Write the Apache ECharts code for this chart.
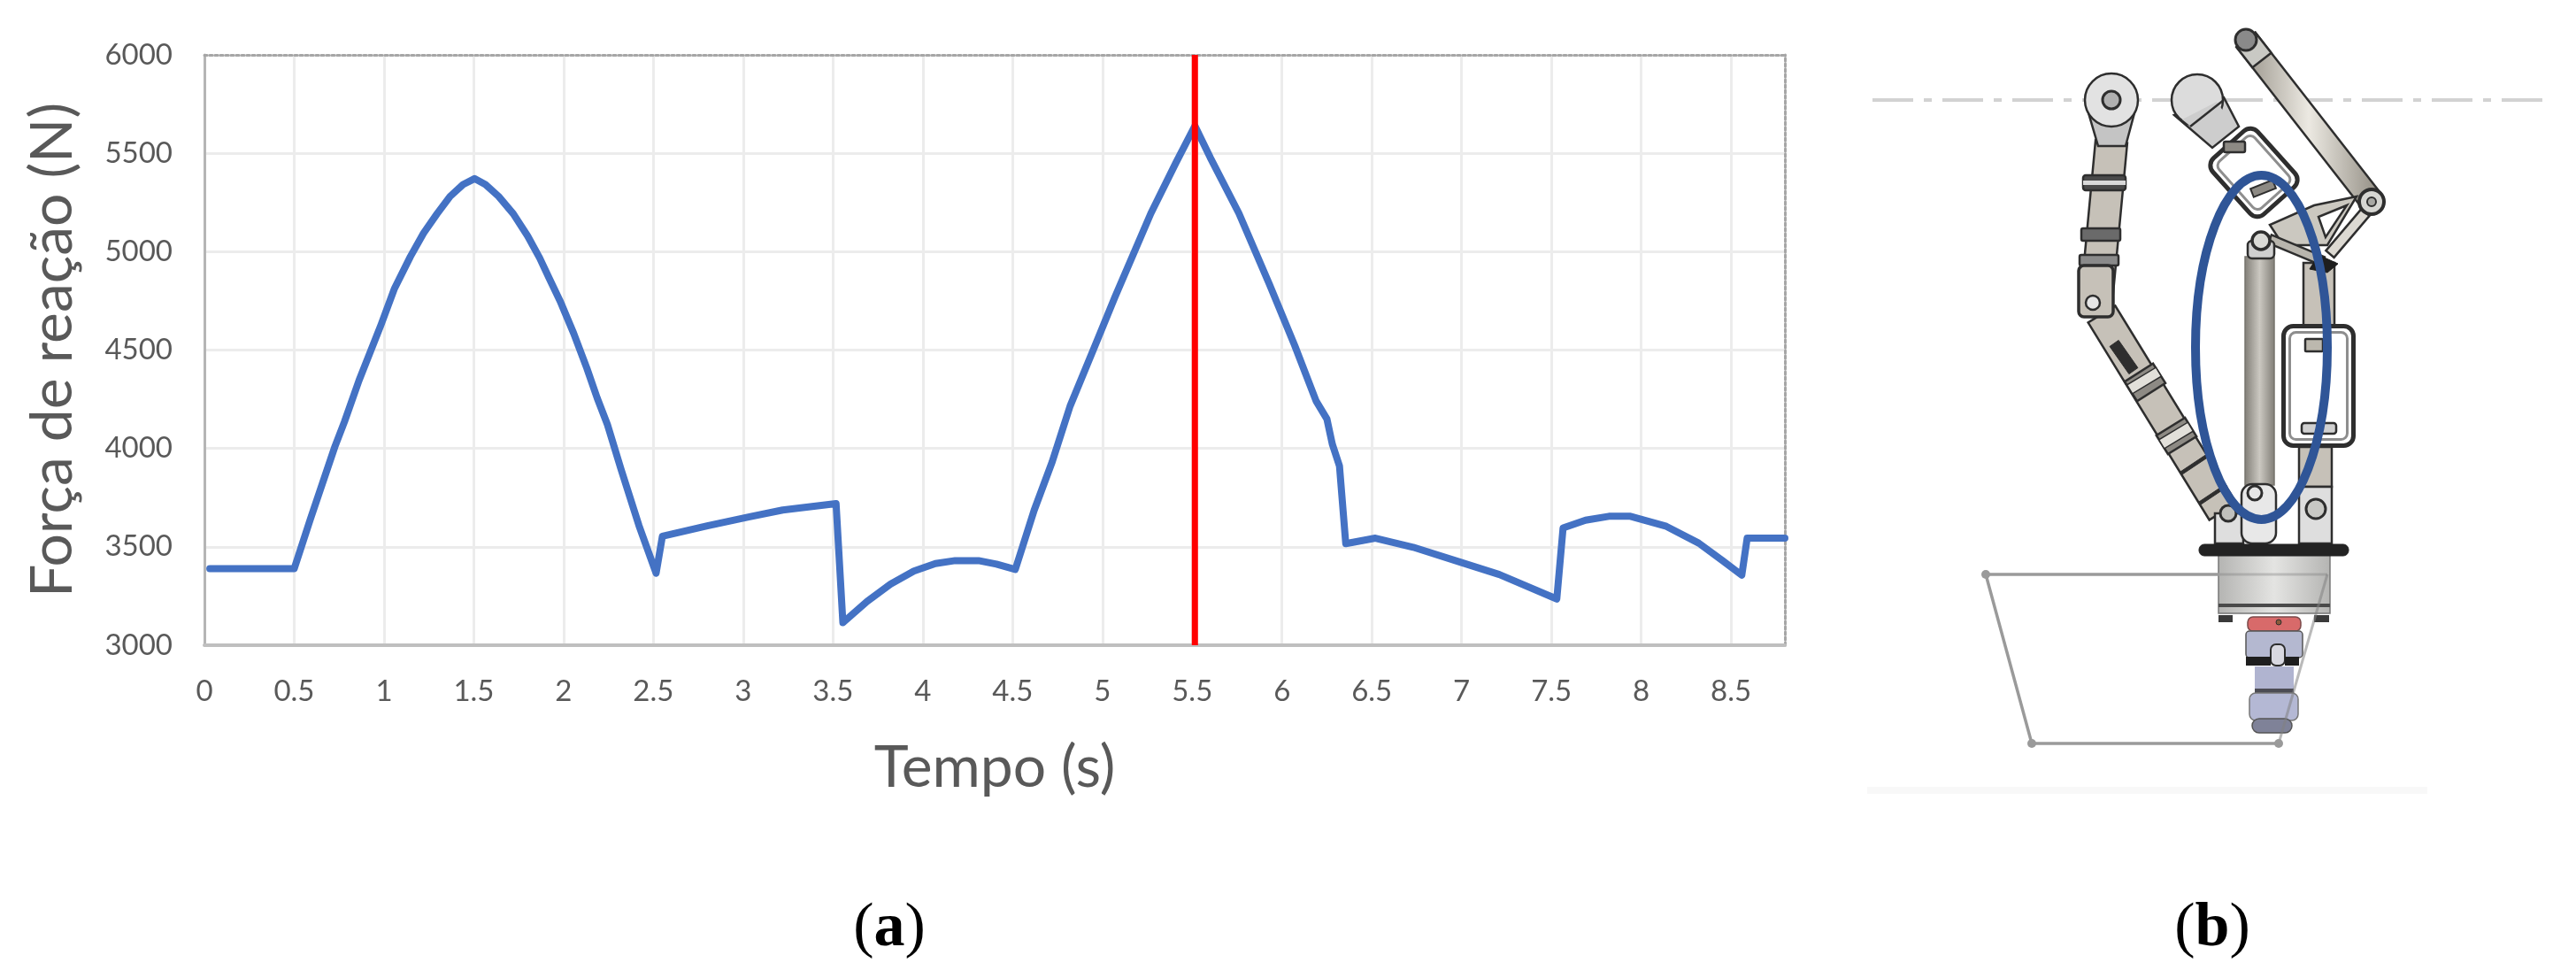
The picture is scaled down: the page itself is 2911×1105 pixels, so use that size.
<!DOCTYPE html>
<html>
<head>
<meta charset="utf-8">
<style>
  html, body { margin: 0; padding: 0; background: #fff; }
  #chart { width: 2911px; height: 1105px; }
</style>
<script src="https://cdn.jsdelivr.net/npm/echarts@6/dist/echarts.min.js"></script>
</head>
<body>
<div id="chart"></div>
<script>
// curve
var tempo = [0.03, 0.5, 0.59, 0.726, 0.78, 0.861, 0.984, 1.057, 1.147, 1.22, 1.295, 1.368, 1.44, 1.504, 1.565, 1.638, 1.72, 1.8, 1.867, 1.917, 1.98, 2.056, 2.13, 2.187, 2.244, 2.32, 2.42, 2.515,
  2.55, 2.8, 3.03, 3.22, 3.517, 3.555, 3.69, 3.82, 3.95, 4.07, 4.18, 4.31, 4.41, 4.515, 4.62, 4.72, 4.82, 4.96, 5.07, 5.27, 5.41, 5.515,
  5.6, 5.76, 5.93, 6.07, 6.19, 6.25, 6.28, 6.32, 6.355, 6.52, 6.73, 7.0, 7.21, 7.53, 7.565, 7.69, 7.82, 7.94, 8.14, 8.32, 8.455, 8.56, 8.59, 8.8];
var forca = [3389, 3389, 3641, 4008, 4136, 4346, 4630, 4810, 4975, 5094, 5192, 5281, 5341, 5371, 5341, 5281, 5192, 5079, 4967, 4870, 4750, 4585, 4406, 4256, 4121, 3893, 3607, 3366,
  3554, 3607, 3652, 3687, 3720, 3115, 3223, 3310, 3377, 3415, 3430, 3430, 3412, 3385, 3686, 3931, 4215, 4525, 4770, 5195, 5453, 5639,
  5479, 5195, 4834, 4525, 4241, 4150, 4022, 3911, 3516, 3544, 3498, 3420, 3359, 3235, 3596, 3635, 3655, 3655, 3604, 3519, 3428, 3356, 3544, 3544];
var marcaTempo = [5.515, 5.515];
var marcaForca = [3000, 6000];

var curva = tempo.map(function (t, i) { return [t, forca[i]]; });
var marca = marcaTempo.map(function (t, i) { return [t, marcaForca[i]]; });

// mechanism drawing on the right, page pixels
var desenho = [];
var TINTA = '#2e2e2e', BEGE = '#c6c1b8', CINZA = '#dedede';

function poly(pts, fill, stroke, lw) {
  desenho.push({ type: 'polygon', shape: { points: pts }, style: { fill: fill, stroke: stroke || TINTA, lineWidth: lw === undefined ? 2.5 : lw } });
}
function link(a, b, w, fill, stroke, lw) {
  var dx = b[0] - a[0], dy = b[1] - a[1], n = Math.sqrt(dx * dx + dy * dy);
  var ox = -dy / n * w / 2, oy = dx / n * w / 2;
  poly([[a[0] + ox, a[1] + oy], [b[0] + ox, b[1] + oy], [b[0] - ox, b[1] - oy], [a[0] - ox, a[1] - oy]], fill, stroke, lw);
}
function furo(x, y, r, fill, lw) {
  desenho.push({ type: 'circle', shape: { cx: x, cy: y, r: r }, style: { fill: fill || '#e8e8e8', stroke: TINTA, lineWidth: lw || 2.5 } });
}
function caixa(x0, y0, x1, y1, fill, stroke, raio, lw) {
  desenho.push({ type: 'rect', shape: { x: x0, y: y0, width: x1 - x0, height: y1 - y0, r: raio || 0 },
    style: { fill: fill, stroke: stroke || 'none', lineWidth: lw || 2.5 } });
}
function traco(pts, color, lw, dash) {
  desenho.push({ type: 'polyline', shape: { points: pts }, style: { fill: 'none', stroke: color, lineWidth: lw, lineDash: dash || null } });
}
function moldura(cx, cy, w, h, rot) {
  desenho.push({ type: 'rect', x: cx, y: cy, rotation: rot, shape: { x: -w / 2, y: -h / 2, width: w, height: h, r: 11 },
    style: { fill: 'rgba(255,255,255,0.9)', stroke: TINTA, lineWidth: 5 } });
  desenho.push({ type: 'rect', x: cx, y: cy, rotation: rot, shape: { x: -w / 2 + 7, y: -h / 2 + 7, width: w - 14, height: h - 14, r: 7 },
    style: { fill: '#fff', stroke: '#8e8e8e', lineWidth: 3 } });
}
function degrade(c0, c1) {
  return new echarts.graphic.LinearGradient(0, 0, 1, 0, [{ offset: 0, color: c0 }, { offset: 0.5, color: c1 }, { offset: 1, color: c0 }]);
}

// dash-dot line and faint band
traco([[2116, 113], [2875, 113]], '#d2d2d2', 4, [46, 12, 9, 12]);
caixa(2110, 889, 2743, 897, '#f8f8f8');

// left leg
link([2375, 355], [2512, 578], 36, BEGE);
link([2405, 400], [2395, 407], 38, TINTA, TINTA, 1);
link([2417, 421], [2431, 443], 38, '#8d8a84');
link([2420, 425], [2426, 435], 38, '#e2e0da', TINTA, 1.5);
link([2453, 482], [2466, 503], 38, '#8d8a84');
link([2456, 487], [2462, 497], 38, '#e2e0da', TINTA, 1.5);
link([2479, 523], [2481, 526], 38, TINTA, TINTA, 1);
link([2500, 557], [2502, 560], 36, TINTA, TINTA, 1);
link([2386, 160], [2370, 330], 36, BEGE);
caixa(2354, 198, 2402, 215, '#4a4a4a', TINTA, 3);
caixa(2354, 204, 2402, 209, '#d8d8d8');
caixa(2352, 258, 2396, 272, '#6a6a6a', TINTA, 2);
caixa(2350, 288, 2394, 300, '#8a8a8a', TINTA, 2);
caixa(2349, 300, 2388, 358, BEGE, TINTA, 6, 3.5);
furo(2365, 342, 8, '#e6e6e6');
poly([[2359, 124], [2413, 124], [2402, 165], [2371, 165]], '#c4c4c4');
furo(2386, 113, 30, '#e2e2e2', 2.5);
furo(2386, 113, 10, '#b0b0b0', 3);

// middle leg: head, frame, piston
poly([[2457, 130], [2500, 167], [2530, 143], [2513, 110]], '#cdcdcd');
furo(2483, 113, 29, '#dcdcdc', 2.5);
poly([[2466, 135], [2499, 162], [2524, 142], [2505, 115]], '#cdcdcd', 'none', 0);
traco([[2475, 143], [2513, 113]], TINTA, 2.5);
moldura(2547, 195, 85, 68, -0.84);
caixa(2513, 160, 2537, 172, '#8d8a84', TINTA, 2);
link([2545, 218], [2570, 208], 10, '#8d8a84', TINTA, 2);
desenho.push({ type: 'rect', shape: { x: 2537, y: 290, width: 33, height: 258, r: 0 },
  style: { fill: degrade('#7f7c75', '#cbc8c1'), stroke: '#77746d', lineWidth: 1.5 } });

// right leg: rod, triangular link
link([2538, 45], [2680, 227], 27, degrade('#8f8a80', '#ece9e2'));
link([2538, 45], [2556, 68], 27, '#c9c9c4');
furo(2538, 45, 12, '#8a8a8a', 3);
poly([[2663, 222], [2615, 232], [2565, 254], [2580, 277], [2630, 277]], '#cbc8c0');
poly([[2652, 232], [2620, 245], [2628, 268]], '#fff');
link([2673, 240], [2633, 287], 12, '#dcd9d2');
link([2565, 270], [2625, 295], 10, '#b8b5ad');
furo(2680, 228, 14, '#d6d6d2', 4);
furo(2680, 228, 5, '#a8a8a4', 2);
caixa(2540, 272, 2570, 292, '#cfcfcf', TINTA, 5);
furo(2555, 272, 10, '#dadad6', 3.5);
caixa(2603, 297, 2638, 370, BEGE, TINTA);
poly([[2620, 288], [2642, 298], [2630, 308], [2610, 304]], '#1e1e1e', '#1e1e1e', 1);

// right frame and lower column
caixa(2598, 505, 2635, 550, BEGE, TINTA);
moldura(2620, 436, 79, 135, 0);
caixa(2605, 383, 2625, 397, '#bcb8ae', TINTA, 1);
caixa(2601, 478, 2640, 490, '#d0d0d0', TINTA, 3);

// brackets on the base
caixa(2598, 550, 2635, 614, CINZA, TINTA);
caixa(2503, 580, 2535, 614, CINZA, TINTA);
caixa(2533, 547, 2572, 614, '#e8e8e8', TINTA, 12);
furo(2518, 580, 9, '#c0c0bc', 3);
furo(2548, 557, 8, '#e6e6e6', 3);
furo(2617, 575, 11, '#c8c8c4', 3);

// base and tool
caixa(2507, 626, 2633, 693, degrade('#b4b4b2', '#e4e4e2'), '#777', 0, 1.5);
caixa(2507, 682, 2633, 686, '#4a4a4a');
caixa(2507, 695, 2523, 703, '#3a3a3a');
caixa(2615, 695, 2632, 703, '#3a3a3a');
caixa(2485, 615, 2654, 628, '#232323', '#232323', 6, 1);
caixa(2540, 697, 2600, 713, '#d86a6a', '#7a4a4a', 6, 1.5);
furo(2575, 703, 3, '#8a5a3a', 1);
caixa(2538, 713, 2602, 743, '#b4b8d0', '#555', 4, 1.5);
caixa(2566, 728, 2582, 752, '#d8d8e0', TINTA, 6, 2);
caixa(2538, 742, 2566, 752, '#1e1e1e');
caixa(2582, 742, 2598, 752, '#1e1e1e');
caixa(2548, 753, 2592, 780, '#b0b4d0');
caixa(2548, 778, 2592, 783, '#4c4c54');
caixa(2542, 783, 2597, 814, '#b4b8d4', '#777', 7, 1.5);
caixa(2545, 812, 2590, 828, '#7f8298', '#555', 8, 1.5);

// workspace sketch over the tool
traco([[2508, 649], [2244, 649], [2296, 840], [2575, 840]], '#9a9a9a', 3.5);
traco([[2508, 649], [2630, 649]], 'rgba(120,120,120,0.35)', 3);
traco([[2575, 840], [2630, 649]], 'rgba(130,130,130,0.55)', 3);
[[2244, 649], [2296, 840], [2575, 840]].forEach(function (c) {
  desenho.push({ type: 'circle', shape: { cx: c[0], cy: c[1], r: 5 }, style: { fill: '#9a9a9a' } });
});

// ellipse marks the piston
desenho.push({ type: 'ellipse', shape: { cx: 2555.5, cy: 392.5, rx: 74.5, ry: 194.5 },
  style: { fill: 'rgba(0,0,0,0)', stroke: '#2f5597', lineWidth: 10 } });

// panel letters
function letra(cx, cy, txt) {
  desenho.push({ type: 'text', x: cx, y: cy, style: {
    text: '{p|(}{b|' + txt + '}{p|)}', align: 'center', verticalAlign: 'middle',
    rich: {
      p: { font: '400 70px "Liberation Serif"', fill: '#000' },
      b: { font: '700 70px "Liberation Serif"', fill: '#000' }
    } } });
}
letra(1005, 1050, 'a');
letra(2500, 1050, 'b');

var TEXTO = '#595959';
var GRADE = { show: true, lineStyle: { color: '#ececec', width: 3 } };
var PONTOS = { show: true, onZero: false, lineStyle: { color: '#a6a6a6', width: 3, type: 'dotted' } };

var option = {
  animation: false,
  backgroundColor: '#fff',
  grid: { left: 231, right: 894, top: 62, bottom: 376 },
  xAxis: [
    {
      type: 'value', min: 0, max: 8.8, interval: 0.5,
      name: 'Tempo (s)', nameLocation: 'middle', nameGap: 106,
      nameTextStyle: { fontFamily: 'Lato', fontSize: 66, color: TEXTO },
      axisLine: { show: true, onZero: false, lineStyle: { color: '#bfbfbf', width: 4 } },
      axisTick: { show: false },
      axisLabel: { color: TEXTO, fontFamily: 'Lato', fontSize: 33, margin: 36, showMaxLabel: false, hideOverlap: false },
      splitLine: GRADE
    },
    {
      type: 'value', position: 'top', min: 0, max: 8.8,
      axisLine: PONTOS, axisTick: { show: false }, axisLabel: { show: false }, splitLine: { show: false }
    }
  ],
  yAxis: [
    {
      type: 'value', min: 3000, max: 6000, interval: 500,
      name: 'Força de reação (N)', nameLocation: 'middle', nameGap: 138,
      nameTextStyle: { fontFamily: 'Lato', fontSize: 66, color: TEXTO },
      axisLine: { show: true, onZero: false, lineStyle: { color: '#b5b5b5', width: 3 } },
      axisTick: { show: false },
      axisLabel: { color: TEXTO, fontFamily: 'Lato', fontSize: 33, margin: 36, formatter: function (v) { return String(v); } },
      splitLine: GRADE
    },
    {
      type: 'value', position: 'right', min: 3000, max: 6000,
      axisLine: PONTOS, axisTick: { show: false }, axisLabel: { show: false }, splitLine: { show: false }
    }
  ],
  series: [
    { type: 'line', data: curva, showSymbol: false, lineStyle: { color: '#4472c4', width: 8, join: 'round', cap: 'round' } },
    { type: 'line', data: marca, showSymbol: false, lineStyle: { color: '#ff0000', width: 7 }, clip: false, z: 5 }
  ],
  graphic: desenho
};

var myChart = echarts.init(document.getElementById('chart'));
myChart.setOption(option);
</script>
</body>
</html>
